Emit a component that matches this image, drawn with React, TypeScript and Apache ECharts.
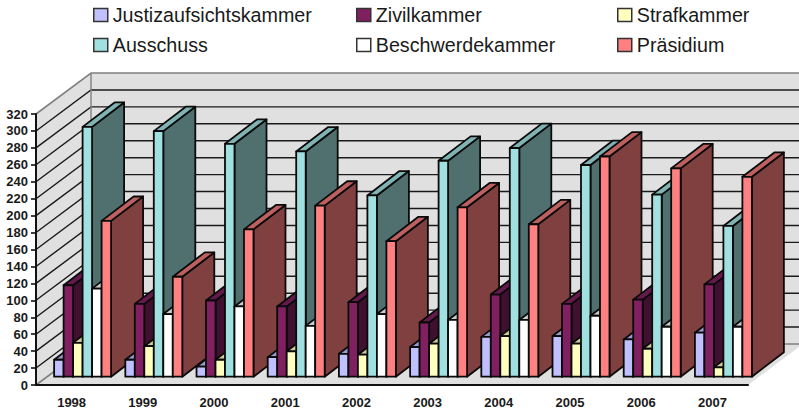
import React, { useEffect, useRef } from "react";
import * as echarts from "echarts";

const years = ["1998", "1999", "2000", "2001", "2002", "2003", "2004", "2005", "2006", "2007"];
const justizaufsichtskammer = [20, 20, 12, 23, 27, 35, 47, 48, 44, 52];
const zivilkammer = [108, 86, 90, 83, 88, 64, 97, 86, 91, 109];
const strafkammer = [40, 36, 20, 30, 26, 39, 48, 39, 33, 11];
const ausschuss = [295, 290, 275, 266, 214, 255, 270, 250, 215, 178];
const beschwerdekammer = [104, 74, 83, 60, 74, 67, 67, 72, 59, 59];
const praesidium = [184, 118, 174, 202, 160, 200, 180, 260, 246, 236];
const axisTicks = [0, 20, 40, 60, 80, 100, 120, 140, 160, 180, 200, 220, 240, 260, 280, 300, 320];

const seriesNames = ["Justizaufsichtskammer", "Zivilkammer", "Strafkammer", "Ausschuss", "Beschwerdekammer", "Präsidium"];
const seriesValues = [justizaufsichtskammer, zivilkammer, strafkammer, ausschuss, beschwerdekammer, praesidium];
const frontColors = ["#C0C0FF", "#802060", "#FFFFC0", "#A0E0E0", "#FFFFFF", "#FF8080"];
const topColors = ["#9A9ACC", "#66194D", "#CCCC9A", "#80B3B3", "#CCCCCC", "#BF6060"];
const sideColors = ["#606080", "#401030", "#808060", "#507070", "#808080", "#804040"];

const FONT = "'Liberation Sans', Arial, sans-serif";
const WALL = "#E0E0E0";
const WALL_DEPTH = [55, -41];
const BAR_OFFSET = [11, -8.3];
const BAR_DEPTH = [32, -24.4];
const LINE = "#1a1a1a";
const EDGE = "#808080";

function barRenderer(seriesIndex: number) {
  return (params: any, api: any) => {
    const cat = api.value(0);
    const val = api.value(1);
    const center = api.coord([cat, 0]);
    const top = api.coord([cat, val]);
    const band = api.size([1, 0])[0];
    const w = band / 7.5;
    const x0 = center[0] - 3 * w + (seriesIndex * w) + BAR_OFFSET[0];
    const x1 = x0 + w;
    const yb = center[1] + BAR_OFFSET[1];
    const yt = top[1] + BAR_OFFSET[1];
    const [dx, dy] = BAR_DEPTH;
    const z = cat * 10 + seriesIndex;
    const border = { stroke: "#0a0a0a", lineWidth: 1.8, lineJoin: "round" };
    return {
      type: "group",
      children: [
        {
          type: "polygon",
          z2: z,
          shape: { points: [[x1, yb], [x1 + dx, yb + dy], [x1 + dx, yt + dy], [x1, yt]] },
          style: { fill: sideColors[seriesIndex], ...border },
        },
        {
          type: "polygon",
          z2: z,
          shape: { points: [[x0, yt], [x0 + dx, yt + dy], [x1 + dx, yt + dy], [x1, yt]] },
          style: { fill: topColors[seriesIndex], ...border },
        },
        {
          type: "polygon",
          z2: z,
          shape: { points: [[x0, yb], [x1, yb], [x1, yt], [x0, yt]] },
          style: { fill: frontColors[seriesIndex], ...border },
        },
      ],
    };
  };
}

function wallRenderer(params: any, api: any) {
  const cs = params.coordSys;
  const l = cs.x;
  const r = cs.x + cs.width;
  const t = cs.y;
  const b = cs.y + cs.height;
  const [dx, dy] = WALL_DEPTH;
  const style = { fill: WALL };
  return {
    type: "group",
    children: [
      { type: "polygon", shape: { points: [[l + dx, t + dy], [r + dx, t + dy], [r + dx, b + dy], [l + dx, b + dy]] }, style },
      { type: "polygon", shape: { points: [[l, t], [l + dx, t + dy], [l + dx, b + dy], [l, b]] }, style },
      { type: "polygon", shape: { points: [[l, b], [r, b], [r + dx, b + dy], [l + dx, b + dy]] }, style },
    ],
  };
}

function gridRenderer(params: any, api: any) {
  const cs = params.coordSys;
  const l = cs.x;
  const r = cs.x + cs.width;
  const v = api.value(0);
  const y = api.coord([0, v])[1];
  const [dx, dy] = WALL_DEPTH;
  const isEdge = v === axisTicks[0] || v === axisTicks[axisTicks.length - 1];
  return {
    type: "polyline",
    shape: { points: [[l, y], [l + dx, y + dy], [r + dx, y + dy]] },
    style: { fill: "none", stroke: isEdge ? EDGE : LINE, lineWidth: isEdge ? 1.6 : 1.4 },
  };
}

function wallEdgeRenderer(params: any, api: any) {
  const cs = params.coordSys;
  const [dx, dy] = WALL_DEPTH;
  return {
    type: "line",
    shape: { x1: cs.x + dx, y1: cs.y + dy, x2: cs.x + dx, y2: cs.y + cs.height + dy },
    style: { stroke: EDGE, lineWidth: 1.4 },
  };
}

function legendFor(names: string[], left: number) {
  return {
    orient: "vertical" as const,
    left,
    top: 5,
    padding: 0,
    data: names,
    icon: "rect",
    itemWidth: 14,
    itemHeight: 13,
    itemGap: 10,
    selectedMode: false,
    itemStyle: { borderColor: "#333333", borderWidth: 1.5 },
    textStyle: { fontFamily: FONT, fontSize: 19.7, color: "#1a1a1a", height: 20, lineHeight: 20 },
  };
}

export default function App() {
  const ref = useRef<HTMLDivElement>(null);
  useEffect(() => {
    const chart = echarts.init(ref.current!, undefined, { renderer: "svg" });
    chart.setOption({
      animation: false,
      backgroundColor: "#FFFFFF",
      legend: [
        legendFor([seriesNames[0], seriesNames[3]], 93),
        legendFor([seriesNames[1], seriesNames[4]], 356),
        legendFor([seriesNames[2], seriesNames[5]], 617),
      ],
      grid: { left: 36, top: 114, width: 712, height: 271, containLabel: false },
      xAxis: {
        type: "category",
        data: years,
        z: 5,
        axisLine: { lineStyle: { color: "#111111", width: 2 } },
        axisTick: { length: 6, lineStyle: { color: "#111111", width: 1.6 } },
        axisLabel: { fontFamily: FONT, fontWeight: "bold", fontSize: 13, color: "#1a1a1a", margin: 11 },
      },
      yAxis: {
        type: "value",
        min: 0,
        max: 320,
        interval: 20,
        z: 5,
        axisLine: { show: true, lineStyle: { color: "#111111", width: 2 } },
        axisTick: { show: true, length: 5, lineStyle: { color: "#111111", width: 1.6 } },
        splitLine: { show: false },
        axisLabel: { fontFamily: FONT, fontWeight: "bold", fontSize: 13, color: "#1a1a1a", margin: 8 },
      },
      series: [
        { type: "custom", silent: true, z: 0, renderItem: wallRenderer, data: [[0]] },
        { type: "custom", silent: true, z: 1, renderItem: gridRenderer, encode: { y: 0 }, data: axisTicks.map((t) => [t]) },
        { type: "custom", silent: true, z: 1, renderItem: wallEdgeRenderer, data: [[0]] },
        ...seriesNames.map((name, i) => ({
          type: "custom",
          name,
          silent: true,
          z: 3,
          itemStyle: { color: frontColors[i] },
          renderItem: barRenderer(i),
          encode: { x: 0, y: 1 },
          data: seriesValues[i].map((v, c) => [c, v]),
        })),
      ],
    });
    return () => chart.dispose();
  }, []);
  return <div ref={ref} style={{ position: "absolute", left: 0, top: 0, width: 799, height: 410 }} />;
}
